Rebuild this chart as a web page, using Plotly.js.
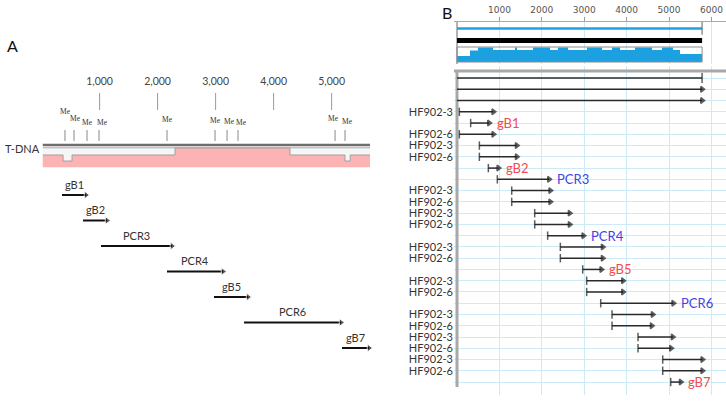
<!DOCTYPE html>
<html><head><meta charset="utf-8">
<script src="https://cdn.plot.ly/plotly-3.0.1.min.js"></script>
<style>html,body{margin:0;padding:0;background:#fff}#chart{width:726px;height:401px}</style>
</head><body><div id="chart"></div>
<script>
// ---------- Panel A data ----------
const aTicks = [1000, 2000, 3000, 4000, 5000];
const meSites = [403, 559, 783, 990, 2162, 2990, 3197, 3386, 5059, 5231];
const tdnaStart = 20;
const tdnaEnd = 5662;
const trackBp = [20, 370, 525, 2300, 4283, 5230, 5320, 5662];
const trackKind = ['low', 'notch', 'low', 'high', 'low', 'notch', 'low', 'low'];
const primersA = ['gB1', 'gB2', 'PCR3', 'PCR4', 'gB5', 'PCR6', 'gB7'];
const primerStartA = [352, 714, 1024, 2162, 2972, 3490, 5179];
const primerEndA = [766, 1128, 2248, 3128, 3559, 5162, 5645];

// ---------- Panel B data ----------
const bTicks = [1000, 2000, 3000, 4000, 5000, 6000];
const seqLength = 5780;
const covBp = [0, 306, 495, 850, 1368, 1415, 1792, 2193, 2382, 2618, 3066, 3420, 3656, 3844, 4198, 4600, 4835, 5094, 5260, 5780];
const covLevel = [1.5, 2.9, 3.6, 3.0, 3.6, 3.0, 3.6, 3.0, 3.6, 3.0, 3.6, 3.0, 3.6, 3.0, 3.6, 3.0, 3.6, 3.0, 2.0, 2.0];
const rowNames = ['', '', '', 'HF902-3', 'gB1', 'HF902-6', 'HF902-3', 'HF902-6', 'gB2', 'PCR3', 'HF902-3', 'HF902-6',
  'HF902-3', 'HF902-6', 'PCR4', 'HF902-3', 'HF902-6', 'gB5', 'HF902-3', 'HF902-6', 'PCR6', 'HF902-3', 'HF902-6',
  'HF902-3', 'HF902-6', 'HF902-3', 'HF902-6', 'gB7'];
const rowStart = [0, 0, 0, 55, 322, 55, 527, 527, 739, 951, 1290, 1290, 1832, 1832, 2138, 2437, 2437, 2964, 3058, 3058,
  3389, 3656, 3656, 4269, 4269, 4851, 4851, 5040];
const rowEnd = [5780, 5780, 5780, 857, 755, 857, 1408, 1408, 975, 2170, 2200, 2200, 2657, 2657, 2980, 3436, 3436, 3404,
  3915, 3915, 5101, 4615, 4592, 5087, 5047, 5786, 5786, 5276];

// ---------- helpers ----------
const H = 401, W = 726;
const py = p => 1 - p / H;
const FONT = 'Lato, "Open Sans", sans-serif';
const traces = [];
const BP_PER_PX_A = 1000 / 58;

// Panel A: y axis A is 10 px per unit, reversed, 0 at the top of the track area
const levelMap = {low: 5.5, notch: 6.1, high: 4.8};
const meLabelY = [1.2, 1.9, 2.3, 2.3, 2.0, 2.1, 2.2, 2.3, 1.9, 2.2];
const meLabelShiftPx = [0, 1, 0, 3, 0, 0, 2, 3, -2, 2];

// axis ticks of panel A (drawn along the bp scale)
{
  const x = [], y = [];
  aTicks.forEach(t => { x.push(t, t, null); y.push(-0.7, 1.0, null); });
  traces.push({x, y, xaxis: 'x', yaxis: 'y', mode: 'lines', line: {color: '#999', width: 1}, hoverinfo: 'skip'});
  traces.push({x: aTicks, y: aTicks.map(() => -1.8), xaxis: 'x', yaxis: 'y', mode: 'text',
    text: aTicks.map(t => t.toLocaleString('en-US')), textfont: {family: FONT, size: 10.5, color: '#444'}, hoverinfo: 'skip'});
}
// Me site ticks
{
  const x = [], y = [];
  meSites.forEach(s => { x.push(s, s, null); y.push(3.0, 4.1, null); });
  traces.push({x, y, xaxis: 'x', yaxis: 'y', mode: 'lines', line: {color: '#8a8a8a', width: 1}, hoverinfo: 'skip'});
  traces.push({x: meSites.map((s, i) => s + meLabelShiftPx[i] * BP_PER_PX_A), y: meLabelY, xaxis: 'x', yaxis: 'y', mode: 'text',
    text: meSites.map(() => 'Me'),
    textfont: {family: '"Liberation Serif", serif', size: 7.5, color: '#333'}, hoverinfo: 'skip'});
}
// T-DNA track
traces.push({x: [tdnaStart, tdnaEnd], y: [4.5, 4.5], xaxis: 'x', yaxis: 'y', mode: 'lines', line: {color: '#6e6e6e', width: 2.5}, hoverinfo: 'skip'});
traces.push({x: [tdnaStart, tdnaEnd], y: [4.78, 4.78], xaxis: 'x', yaxis: 'y', mode: 'lines', line: {color: '#a9a9a9', width: 1}, hoverinfo: 'skip'});
traces.push({x: trackBp, y: trackKind.map(k => levelMap[k]), xaxis: 'x', yaxis: 'y', mode: 'lines',
  line: {color: '#a0a0a0', width: 1, shape: 'hv'}, fill: 'tonexty', fillcolor: '#f6f6f6', hoverinfo: 'skip'});
traces.push({x: [tdnaStart, tdnaEnd], y: [6.7, 6.7], xaxis: 'x', yaxis: 'y', mode: 'lines',
  line: {color: '#fbb3b3', width: 0.5}, fill: 'tonexty', fillcolor: '#fbb3b3', hoverinfo: 'skip'});
// primer arrows A
const rowA = i => 9.5 + i * 2.55;
{
  const x = [], y = [], sz = [];
  primersA.forEach((p, i) => { x.push(primerStartA[i], primerEndA[i], null); y.push(rowA(i), rowA(i), null); sz.push(0, 7, 0); });
  traces.push({x, y, xaxis: 'x', yaxis: 'y', mode: 'lines+markers', line: {color: '#111', width: 2},
    marker: {symbol: 'triangle-right', size: sz, color: '#111'}, hoverinfo: 'skip'});
}

// Panel B top box (y3)
traces.push({x: [0, 0], y: [-0.5, 10], xaxis: 'x2', yaxis: 'y3', mode: 'lines', line: {color: '#9a9a9a', width: 1.5}, hoverinfo: 'skip'});
traces.push({x: [0, seqLength], y: [8.4, 8.4], xaxis: 'x2', yaxis: 'y3', mode: 'lines+markers', line: {color: '#1fa2e0', width: 2.5},
  marker: {symbol: 'line-ns-open', size: [0, 9], color: '#666', line: {color: '#666', width: 1.5}}, hoverinfo: 'skip'});
traces.push({x: [0, seqLength], y: [5.4, 5.4], xaxis: 'x2', yaxis: 'y3', mode: 'lines', line: {color: '#000', width: 5}, hoverinfo: 'skip'});
traces.push({x: covBp, y: covLevel, xaxis: 'x2', yaxis: 'y3', mode: 'lines', line: {width: 0, shape: 'hv'},
  fill: 'tozeroy', fillcolor: '#1ca0df', hoverinfo: 'skip'});
traces.push({x: [0, seqLength, seqLength, 0, 0], y: [0, 0, 3.75, 3.75, 0], xaxis: 'x2', yaxis: 'y3', mode: 'lines',
  line: {color: '#8c8c8c', width: 1}, hoverinfo: 'skip'});

// Panel B rows (y2)
traces.push({x: [-71, 6344], y: [-0.62, -0.62], xaxis: 'x2', yaxis: 'y2', mode: 'lines', line: {color: '#a8a8a8', width: 3}, hoverinfo: 'skip'});
traces.push({x: [0, 0], y: [-0.62, 27.45], xaxis: 'x2', yaxis: 'y2', mode: 'lines', line: {color: '#a8a8a8', width: 3}, hoverinfo: 'skip'});
{
  const x = [], y = [], sym = [], sz = [];
  rowNames.forEach((n, r) => {
    x.push(rowStart[r], rowEnd[r], null); y.push(r, r, null);
    if (r < 3) { sym.push('circle', r === 0 ? 'line-ns-open' : 'triangle-right', 'circle'); sz.push(0, r === 0 ? 7 : 5, 0); }
    else { sym.push('line-ns-open', 'triangle-right', 'circle'); sz.push(6, 5, 0); }
  });
  traces.push({x, y, xaxis: 'x2', yaxis: 'y2', mode: 'lines+markers', line: {color: '#2a2a2a', width: 1.5},
    marker: {symbol: sym, size: sz, color: '#1a1a1a', line: {color: '#1a1a1a', width: 1.5}}, hoverinfo: 'skip'});
}

const annotations = [];
annotations.push({xref: 'paper', yref: 'paper', x: 5 / W, y: py(45), xanchor: 'left', yanchor: 'middle', text: 'A', showarrow: false,
  font: {family: FONT, size: 16, color: '#111'}});
annotations.push({xref: 'paper', yref: 'paper', x: 440 / W, y: py(12), xanchor: 'left', yanchor: 'middle', text: 'B', showarrow: false,
  font: {family: FONT, size: 16, color: '#111'}});
annotations.push({xref: 'paper', yref: 'paper', x: 3 / W, y: py(148), xanchor: 'left', yanchor: 'middle', text: 'T-DNA', showarrow: false,
  font: {family: FONT, size: 11, color: '#333'}});
primersA.forEach((p, i) => {
  annotations.push({xref: 'x', yref: 'y', x: (primerStartA[i] + primerEndA[i]) / 2, y: rowA(i) - 1.1, text: p, showarrow: false,
    xanchor: 'center', yanchor: 'middle', font: {family: FONT, size: 11, color: '#333'}});
});
rowNames.forEach((n, r) => {
  if (/^(gB|PCR)/.test(n)) {
    annotations.push({xref: 'x2', yref: 'y2', x: rowEnd[r] + 130, y: r, text: n, showarrow: false, xanchor: 'left', yanchor: 'middle',
      font: {family: FONT, size: 13, color: n.startsWith('gB') ? '#f24c4c' : '#4444e2'}});
  }
});

const gridBlue = '#cdebf7';
const layout = {
  width: W, height: H, margin: {l: 0, r: 0, t: 0, b: 0}, paper_bgcolor: '#fff', plot_bgcolor: 'rgba(0,0,0,0)',
  showlegend: false, font: {family: FONT},
  xaxis: {domain: [0, 380 / W], range: [-717, 5834], anchor: 'y', visible: false},
  yaxis: {domain: [py(360), py(60)], range: [26, -4], visible: false, anchor: 'x'},
  xaxis2: {domain: [454 / W, 1], range: [-71, 6344], anchor: 'y3', side: 'top', tickvals: bTicks, ticks: 'outside', ticklen: 4,
    tickcolor: '#999', showline: true, linecolor: '#aaa', linewidth: 1, showgrid: true, gridcolor: gridBlue, gridwidth: 1,
    zeroline: false, tickfont: {family: '"DejaVu Sans", sans-serif', size: 9, color: '#555'}},
  yaxis2: {domain: [py(395), py(66)], range: [28.15, -1.066], anchor: 'x2', tickvals: rowNames.map((n, i) => i),
    ticktext: rowNames.map(n => n.startsWith('HF') ? n : ''), ticks: '', showgrid: true, gridcolor: gridBlue, gridwidth: 1,
    zeroline: false, showline: false, tickfont: {family: FONT, size: 11, color: '#333'}},
  yaxis3: {domain: [py(64), py(22)], range: [-0.5, 10], anchor: 'x2', visible: false},
  annotations
};
Plotly.newPlot('chart', traces, layout, {staticPlot: true, displayModeBar: false});
</script></body></html>
